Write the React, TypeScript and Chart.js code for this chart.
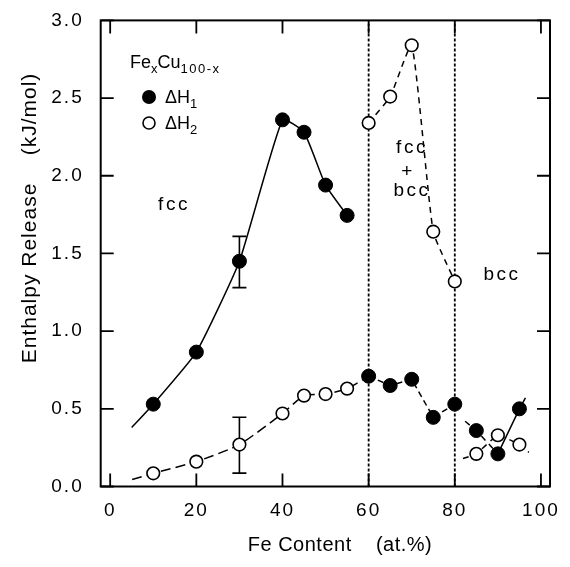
import React, { useEffect, useRef } from "react";
import { Chart, registerables } from "chart.js";

Chart.register(...registerables);

// ---- data ----
const feContent = [10, 20, 30, 40, 45, 50, 55, 60, 65, 70, 75, 80, 85, 90, 95];
const deltaH1 = [0.53, 0.865, 1.45, 2.36, 2.28, 1.94, 1.745, 0.71, 0.65, 0.69, 0.445, 0.53, 0.36, 0.21, 0.5];
const deltaH2 = [0.085, 0.16, 0.27, 0.47, 0.585, 0.595, 0.63, 2.34, 2.51, 2.84, 1.64, 1.32, 0.21, 0.33, 0.27];

// guide-curve end points (where the hand-drawn lines start/stop)
const h1FccStart = { x: 5, y: 0.38 };
const h2LowStart = { x: 5.1, y: 0.045 };
const h1BccStart = { x: 82.4, y: 0.42 };
const h1BccEnd = { x: 96.4, y: 0.57 };
const h2BccStart = { x: 81.9, y: 0.18 };
const h2BccEnd = { x: 97.2, y: 0.22 };

// error bars at 30 at.%
const errX = [30, 30];
const errLow = [1.28, 0.086];
const errHigh = [1.61, 0.446];

// phase boundaries
const boundaries = [60, 80];

const xTicks = [0, 20, 40, 60, 80, 100];
const yTicks = [0, 0.5, 1.0, 1.5, 2.0, 2.5, 3.0];

const X_MIN = -2.2;
const X_MAX = 102.1;

const FONT = '"Liberation Sans", Arial, Helvetica, sans-serif';

const pts = (idx: number[], ys: number[]) => idx.map((i) => ({ x: feContent[i], y: ys[i] }));
const range = (a: number, b: number) => {
  const r: number[] = [];
  for (let i = a; i <= b; i++) r.push(i);
  return r;
};

const decoPlugin = {
  id: "deco",
  beforeDraw(chart: any) {
    chart.ctx.letterSpacing = "2px";
  },
  beforeDatasetsDraw(chart: any) {
    const { ctx, scales } = chart;
    const xs = scales.x;
    const ys = scales.y;
    ctx.save();
    ctx.letterSpacing = "0px";
    ctx.strokeStyle = "#000";
    ctx.lineWidth = 1.6;
    errX.forEach((xv, i) => {
      const px = xs.getPixelForValue(xv);
      const y1 = ys.getPixelForValue(errLow[i]);
      const y2 = ys.getPixelForValue(errHigh[i]);
      ctx.beginPath();
      ctx.moveTo(px, y1);
      ctx.lineTo(px, y2);
      ctx.moveTo(px - 7, y1);
      ctx.lineTo(px + 7, y1);
      ctx.moveTo(px - 7, y2);
      ctx.lineTo(px + 7, y2);
      ctx.stroke();
    });
    ctx.restore();
  },
  afterDraw(chart: any) {
    const { ctx, chartArea: a, scales } = chart;
    const xs = scales.x;
    const ys = scales.y;
    ctx.save();
    ctx.letterSpacing = "0px";
    // frame
    ctx.strokeStyle = "#000";
    ctx.lineWidth = 2;
    ctx.strokeRect(a.left, a.top, a.right - a.left, a.bottom - a.top);
    // inward ticks
    ctx.lineWidth = 1.8;
    const TL = 13;
    ctx.beginPath();
    xTicks.forEach((v) => {
      const px = xs.getPixelForValue(v);
      ctx.moveTo(px, a.bottom);
      ctx.lineTo(px, a.bottom - TL);
      ctx.moveTo(px, a.top);
      ctx.lineTo(px, a.top + TL);
    });
    yTicks.forEach((v) => {
      const py = ys.getPixelForValue(v);
      ctx.moveTo(a.left, py);
      ctx.lineTo(a.left + TL, py);
      ctx.moveTo(a.right, py);
      ctx.lineTo(a.right - TL, py);
    });
    ctx.stroke();

    ctx.fillStyle = "#000";
    // axis titles
    ctx.font = `20px ${FONT}`;
    ctx.textAlign = "center";
    ctx.textBaseline = "middle";
    ctx.letterSpacing = "0.5px";
    ctx.fillText("Fe Content    (at.%)", 340, 545);
    ctx.save();
    ctx.translate(30, 218);
    ctx.rotate(-Math.PI / 2);
    ctx.font = `21px ${FONT}`;
    ctx.letterSpacing = "1px";
    ctx.fillText("Enthalpy Release    (kJ/mol)", 0, 0);
    ctx.restore();

    // phase annotations
    ctx.font = `19px ${FONT}`;
    ctx.letterSpacing = "2.5px";
    ctx.fillText("fcc", 174, 205);
    ctx.fillText("fcc", 412, 148);
    ctx.fillText("+", 408, 172);
    ctx.fillText("bcc", 412, 191);
    ctx.fillText("bcc", 502, 275);

    // legend
    ctx.textAlign = "left";
    ctx.textBaseline = "alphabetic";
    const seq = (items: [string, number, number, number][], x0: number) => {
      let x = x0;
      items.forEach(([t, size, base, sp]) => {
        ctx.font = `${size}px ${FONT}`;
        ctx.letterSpacing = `${sp}px`;
        ctx.fillText(t, x, base);
        x += ctx.measureText(t).width;
      });
    };
    seq(
      [
        ["Fe", 18, 68, 0],
        ["x", 13, 73, 0],
        ["Cu", 18, 68, 0],
        ["100-x", 13, 73, 1.5],
      ],
      130
    );
    ctx.lineWidth = 1.6;
    ctx.beginPath();
    ctx.arc(149, 97, 7, 0, Math.PI * 2);
    ctx.fill();
    ctx.beginPath();
    ctx.arc(149, 123, 6, 0, Math.PI * 2);
    ctx.fillStyle = "#fff";
    ctx.fill();
    ctx.stroke();
    ctx.fillStyle = "#000";
    seq(
      [
        ["ΔH", 18, 103, 0],
        ["1", 13, 108, 0],
      ],
      165
    );
    seq(
      [
        ["ΔH", 18, 129, 0],
        ["2", 13, 134, 0],
      ],
      165
    );
    ctx.restore();
  },
};

export default function App() {
  const ref = useRef<HTMLCanvasElement | null>(null);

  useEffect(() => {
    if (!ref.current) return;
    const curve = (data: any[], dash: number[], tension = 0.25) => ({
      type: "line",
      data,
      showLine: true,
      borderColor: "#000",
      borderWidth: 1.5,
      borderDash: dash,
      pointRadius: 0,
      tension,
      fill: false,
      order: 10,
    });

    const datasets: any[] = [
      curve([h1FccStart, ...pts(range(0, 6), deltaH1)], [], 0.15),
      curve([h2LowStart, ...pts(range(0, 6), deltaH2), { x: feContent[7], y: deltaH1[7] }], [10, 5], 0.2),
      curve(pts(range(7, 11), deltaH1), [6, 4], 0),
      curve(pts(range(7, 11), deltaH2), [6, 5], 0.15),
      curve([h1BccStart, ...pts([12, 13], deltaH1)], [6, 5], 0),
      curve([...pts([13, 14], deltaH1), h1BccEnd], [], 0),
      curve([h2BccStart, ...pts([12, 13, 14], deltaH2), h2BccEnd], [6, 5], 0.1),
      ...boundaries.map((b) => ({
        type: "line",
        data: [
          { x: b, y: 0 },
          { x: b, y: 3 },
        ],
        borderColor: "#000",
        borderWidth: 1.8,
        borderDash: [3, 2],
        pointRadius: 0,
        order: 11,
      })),
      {
        type: "scatter",
        label: "ΔH1",
        data: pts(range(0, 14), deltaH1),
        pointRadius: 7,
        pointBackgroundColor: "#000",
        pointBorderColor: "#000",
        pointBorderWidth: 1,
        order: 1,
      },
      {
        type: "scatter",
        label: "ΔH2",
        data: pts(range(0, 14), deltaH2),
        pointRadius: 6.3,
        pointBackgroundColor: "#fff",
        pointBorderColor: "#000",
        pointBorderWidth: 1.6,
        order: 1,
      },
    ];

    const chart = new Chart(ref.current, {
      type: "scatter",
      data: { datasets },
      options: {
        animation: false,
        responsive: false,
        layout: { padding: { top: 20, right: 20, left: 0, bottom: 0 } },
        plugins: { legend: { display: false }, tooltip: { enabled: false } },
        scales: {
          x: {
            type: "linear",
            min: X_MIN,
            max: X_MAX,
            grid: { display: false },
            border: { display: false },
            afterBuildTicks: (s: any) => {
              s.ticks = xTicks.map((v) => ({ value: v }));
            },
            afterFit: (s: any) => {
              s.height = 80.5;
            },
            ticks: {
              color: "#000",
              font: { family: FONT, size: 19 },
              padding: 5,
              maxRotation: 0,
              autoSkip: false,
              callback: (v: any) => String(v),
            },
          },
          y: {
            type: "linear",
            min: 0,
            max: 3,
            grid: { display: false },
            border: { display: false },
            afterBuildTicks: (s: any) => {
              s.ticks = yTicks.map((v) => ({ value: v }));
            },
            afterFit: (s: any) => {
              s.width = 100.7;
            },
            ticks: {
              color: "#000",
              font: { family: FONT, size: 19 },
              padding: 9,
              callback: (v: any) => Number(v).toFixed(1),
            },
          },
        },
      } as any,
      plugins: [decoPlugin],
    });
    return () => chart.destroy();
  }, []);

  return (
    <div style={{ position: "fixed", left: 0, top: 0, width: 570, height: 567, background: "#fff" }}>
      <canvas ref={ref} width={570} height={567} style={{ width: 570, height: 567 }} />
    </div>
  );
}
